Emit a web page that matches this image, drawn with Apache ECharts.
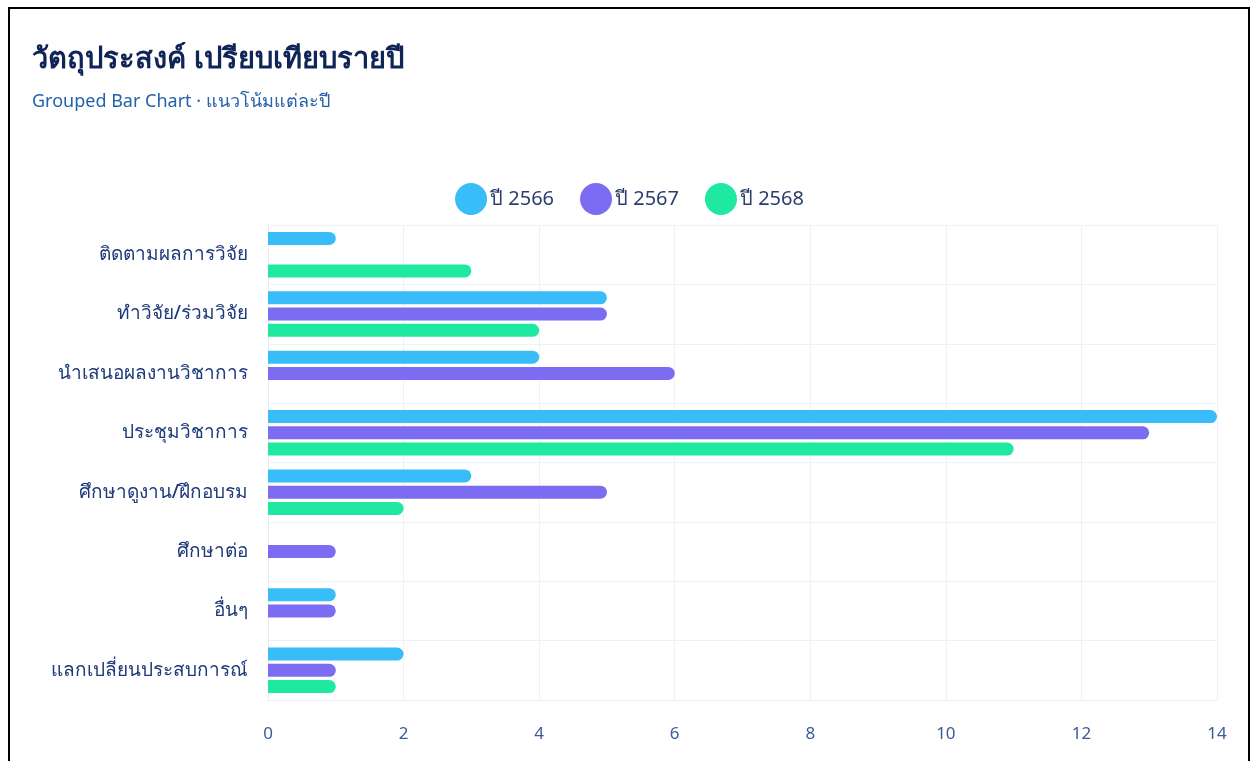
<!DOCTYPE html>
<html><head><meta charset="utf-8">
<script src="https://cdn.jsdelivr.net/npm/echarts@6/dist/echarts.min.js"></script>
<style>
html,body{margin:0;padding:0;background:#fff;}
#frame{position:absolute;left:8px;top:7px;width:1242px;height:800px;border:2px solid #000;box-sizing:border-box;pointer-events:none;z-index:2;}
#c{position:absolute;left:0;top:0;width:1259px;height:761px;}
</style></head>
<body>
<div id="c"></div><div id="frame"></div>
<script>
const categories = ['ติดตามผลการวิจัย','ทำวิจัย/ร่วมวิจัย','นำเสนอผลงานวิชาการ','ประชุมวิชาการ','ศึกษาดูงาน/ฝึกอบรม','ศึกษาต่อ','อื่นๆ','แลกเปลี่ยนประสบการณ์'];
const seriesNames = ['ปี 2566','ปี 2567','ปี 2568'];
const y2566 = [1,5,4,14,3,0,1,2];
const y2567 = [0,5,6,13,5,1,1,1];
const y2568 = [3,4,0,11,2,0,0,1];
const xTicks = [0,2,4,6,8,10,12,14];
const colors = ['#38bdf8','#7b6cf2','#1fe8a0'];
const values = [y2566,y2567,y2568];
const FONT = '"Noto Sans", sans-serif';
const chart = echarts.init(document.getElementById('c'));
chart.setOption({
  animation:false,
  title:{text:'วัตถุประสงค์ เปรียบเทียบรายปี',subtext:'Grouped Bar Chart · แนวโน้มแต่ละปี',left:27,top:40,itemGap:19,
    textStyle:{fontFamily:FONT,fontSize:29,fontWeight:'bold',color:'#0f2557'},
    subtextStyle:{fontFamily:FONT,fontSize:18,color:'#2563a8'}},
  legend:{top:178,left:'center',itemWidth:32,itemHeight:32,itemGap:26,icon:'circle',
    textStyle:{fontFamily:FONT,fontSize:20,color:'#2a3f6e',padding:[0,0,0,-2]}},
  grid:{left:268,right:42,top:225,bottom:61,containLabel:false},
  xAxis:{type:'value',min:xTicks[0],max:xTicks[xTicks.length-1],interval:2,
    axisLabel:{fontFamily:FONT,fontSize:17,color:'#3b5b9a',margin:26},
    axisLine:{show:true,lineStyle:{color:'#e6ecf5'}},axisTick:{show:false},
    splitLine:{show:true,lineStyle:{color:'#eef2f8'}}},
  yAxis:{type:'category',data:categories,inverse:true,
    axisLabel:{fontFamily:FONT,fontSize:19,fontWeight:500,color:'#1e3a7a',margin:20},
    axisLine:{show:true,lineStyle:{color:'#e6ecf5'}},axisTick:{show:false},
    splitLine:{show:true,lineStyle:{color:'#eef2f8'}}},
  series:seriesNames.map((n,i)=>({name:n,type:'bar',data:values[i],barWidth:13,barGap:'25%',
    itemStyle:{color:colors[i],borderRadius:[0,7,7,0]}}))
});
</script>
</body></html>
